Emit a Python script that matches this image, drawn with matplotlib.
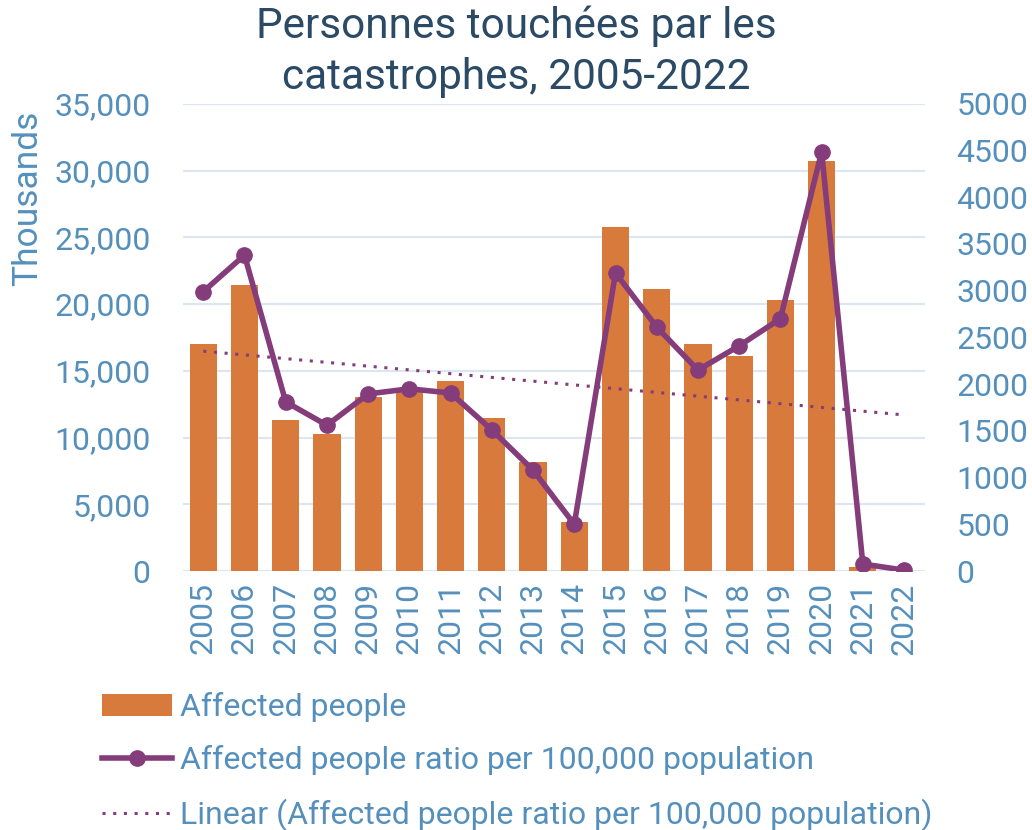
import matplotlib

matplotlib.use("Agg")
import matplotlib.pyplot as plt
import numpy as np
from matplotlib.lines import Line2D
from matplotlib.patches import Patch
from matplotlib.ticker import FuncFormatter

plt.rcParams["font.family"] = ["Roboto", "DejaVu Sans"]

years = [str(y) for y in range(2005, 2023)]
affected_thousands = [17000, 21400, 11300, 10300, 13000, 13500, 14200, 11500, 8200,
                      3700, 25800, 21100, 17000, 16100, 20300, 30700, 300, 0]
ratio_per_100k = [2990, 3380, 1810, 1560, 1895, 1950, 1905, 1510, 1080,
                  500, 3190, 2610, 2150, 2410, 2700, 4485, 75, 10]

BAR_COLOR = "#d97a3d"
LINE_COLOR = "#843c7a"
TICK_COLOR = "#5590bd"
TITLE_COLOR = "#2b4a66"
GRID_COLOR = "#dce6f0"

fig = plt.figure(figsize=(10.32, 8.3), dpi=100)
ax = fig.add_axes([0.177, 0.312, 0.719, 0.563])
ax2 = ax.twinx()

x = np.arange(len(years))
ax.bar(x, affected_thousands, width=0.66, color=BAR_COLOR, zorder=2)
ax.set_ylim(0, 35000)
ax.set_yticks(range(0, 35001, 5000))
ax.yaxis.set_major_formatter(FuncFormatter(lambda v, p: f"{int(v):,}"))
ax.set_xlim(-0.5, len(years) - 0.5)
ax.set_xticks(x)
ax.set_xticklabels(years, rotation=90)
ax.grid(axis="y", color=GRID_COLOR, linewidth=1.5, zorder=0)
ax.set_axisbelow(True)
for s in ax.spines.values():
    s.set_visible(False)
ax.tick_params(axis="y", length=0, labelsize=23, labelcolor=TICK_COLOR, pad=23)
ax.tick_params(axis="x", length=0, labelsize=23, labelcolor=TICK_COLOR, pad=8)
ax.set_ylabel("Thousands", fontsize=25.5, color=TICK_COLOR, loc="top")
ax.yaxis.set_label_coords(-0.186, 0.985)

ax2.plot(x, ratio_per_100k, color=LINE_COLOR, linewidth=4, marker="o",
         markersize=11, zorder=4)
coef = np.polyfit(x, ratio_per_100k, 1)
ax2.plot(x, np.polyval(coef, x), color=LINE_COLOR, linestyle=(0, (1, 2.5)),
         linewidth=2.2, zorder=3)
ax2.set_ylim(0, 5000)
ax2.set_yticks(range(0, 5001, 500))
for s in ax2.spines.values():
    s.set_visible(False)
ax2.tick_params(axis="y", length=0, labelsize=23, labelcolor=TICK_COLOR, pad=23)

fig.suptitle("Personnes touchées par les\ncatastrophes, 2005-2022", fontsize=30.5,
             color=TITLE_COLOR, x=0.5, y=0.993, linespacing=1.3)

handles = [
    Patch(facecolor=BAR_COLOR, label="Affected people"),
    Line2D([], [], color=LINE_COLOR, linewidth=4, marker="o", markersize=11,
           label="Affected people ratio per 100,000 population"),
    Line2D([], [], color=LINE_COLOR, linewidth=2.2, linestyle=(0, (1, 2.5)),
           label="Linear (Affected people ratio per 100,000 population)"),
]
leg = fig.legend(handles=handles, loc="upper left", bbox_to_anchor=(0.083, 0.185),
                 frameon=False, fontsize=23, handlelength=2.2, handleheight=0.7,
                 labelspacing=0.72, handletextpad=0.25, borderpad=0)
for t in leg.get_texts():
    t.set_color(TICK_COLOR)

fig.savefig("out.png", dpi=100, facecolor="white")
